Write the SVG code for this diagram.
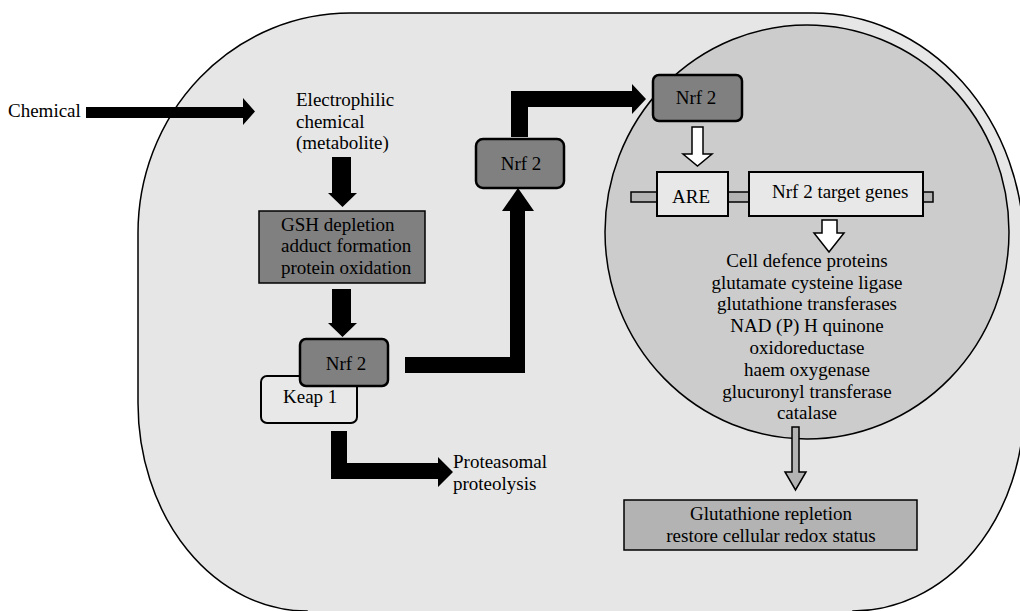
<svg xmlns="http://www.w3.org/2000/svg" width="1020" height="611" viewBox="0 0 1020 611">
<style>
text{font-family:"Liberation Serif","Times New Roman",serif;font-size:19px;fill:#000}
.c{text-anchor:middle}
.dark{fill:#808080;stroke:#000;stroke-width:2.5}
.light{fill:#e8e8e8;stroke:#000;stroke-width:2}
.blk{fill:#000}
.hollow{fill:#fff;stroke:#000;stroke-width:1.5}
.grey{fill:#b3b3b3;stroke:#000;stroke-width:1.5}
</style>
<rect width="1020" height="611" fill="#fff"/>
<g id="cell">
<path d="M350,13 L813,13 A211,235 0 0 1 1024,248 L1024,406 A171,205 0 0 1 853,611 L853,615 L307,615 L307,611 A169,208 0 0 1 138,403 L138,233 A212,220 0 0 1 350,13 Z" fill="#e6e6e6" stroke="#000" stroke-width="1.5"/>
</g>
<g id="nucleus">
<ellipse cx="807" cy="232" rx="202" ry="207" fill="#cccccc" stroke="#000" stroke-width="1.5"/>
</g>
<g id="connectors">
<path class="blk" d="M86,107 L243,107 L243,98 L255,111.5 L243,125 L243,118 L86,118 Z"/>
<path class="blk" d="M332,157 L351,157 L351,193 L357,193 L342.5,207 L328,193 L332,193 Z"/>
<path class="blk" d="M332,289 L351,289 L351,323 L357,323 L342.5,337 L328,323 L332,323 Z"/>
<path class="blk" d="M405,357 L510,357 L510,211 L502,211 L518,188 L534,211 L525,211 L525,373 L405,373 Z"/>
<path class="blk" d="M511,137 L511,91 L632,91 L632,84 L646,99 L632,114 L632,107 L528,107 L528,137 Z"/>
<path class="blk" d="M331,431 L347,431 L347,463 L438,463 L438,457 L453,472 L438,487 L438,479 L331,479 Z"/>
<path class="hollow" d="M692,127 L703,127 L703,154 L712,154 L697.5,166 L683,154 L692,154 Z"/>
<path class="hollow" d="M822,220 L837,220 L837,233 L844,233 L829,252 L814,233 L822,233 Z"/>
<path class="grey" d="M792,427 L799,427 L799,472 L806,472 L795.5,490 L785,472 L792,472 Z"/>
</g>
<g id="chemical">
<text x="8" y="117">Chemical</text>
</g>
<g id="electrophilic">
<text x="296" y="106">Electrophilic</text>
<text x="296" y="128">chemical</text>
<text x="296" y="149">(metabolite)</text>
</g>
<g id="gsh">
<rect x="259" y="211" width="166" height="72" fill="#808080" stroke="#000" stroke-width="1.5"/>
<text x="281" y="231">GSH depletion</text>
<text x="281" y="252">adduct formation</text>
<text x="281" y="274">protein oxidation</text>
</g>
<g id="keap1">
<rect class="light" x="261" y="376" width="96" height="47" rx="6"/>
<text x="283" y="403">Keap 1</text>
</g>
<g id="nrf2-cyto">
<rect class="dark" x="300" y="339" width="88" height="47" rx="6"/>
<text class="c" x="346" y="370">Nrf 2</text>
</g>
<g id="nrf2-free">
<rect class="dark" x="476" y="139" width="88" height="49" rx="7"/>
<text class="c" x="521" y="170">Nrf 2</text>
</g>
<g id="nrf2-nuclear">
<rect class="dark" x="653" y="75" width="89" height="46" rx="6"/>
<text class="c" x="696" y="104">Nrf 2</text>
</g>
<g id="dna">
<rect class="grey" x="631" y="192" width="302" height="10"/>
</g>
<g id="are">
<rect class="light" x="657" y="172" width="71" height="44" stroke-width="1.5"/>
<text class="c" x="691" y="203">ARE</text>
</g>
<g id="target-genes">
<rect class="light" x="749" y="172" width="174" height="44" stroke-width="1.5"/>
<text x="772" y="198">Nrf 2 target genes</text>
</g>
<g id="defence-proteins">
<text class="c" x="807" y="267">Cell defence proteins</text>
<text class="c" x="807" y="288.5">glutamate cysteine ligase</text>
<text class="c" x="807" y="310">glutathione transferases</text>
<text class="c" x="807" y="332">NAD (P) H quinone</text>
<text class="c" x="807" y="354">oxidoreductase</text>
<text class="c" x="807" y="376">haem oxygenase</text>
<text class="c" x="807" y="397.5">glucuronyl transferase</text>
<text class="c" x="807" y="419">catalase</text>
</g>
<g id="proteolysis">
<text x="453" y="468">Proteasomal</text>
<text x="453" y="490">proteolysis</text>
</g>
<g id="glutathione">
<rect x="624" y="500" width="293" height="50" fill="#b3b3b3" stroke="#000" stroke-width="1.5"/>
<text class="c" x="771" y="520">Glutathione repletion</text>
<text class="c" x="771" y="542">restore cellular redox status</text>
</g>
</svg>
